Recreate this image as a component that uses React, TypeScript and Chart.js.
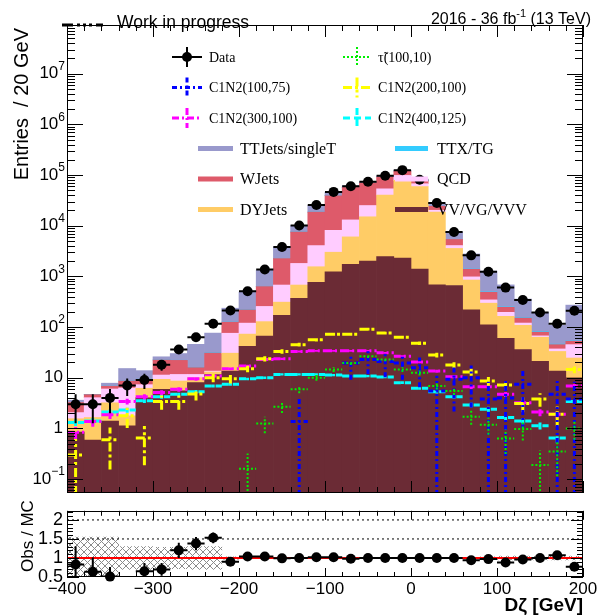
import React, { useEffect, useRef } from 'react';
import { Chart, registerables } from 'chart.js';

Chart.register(...registerables);

// Dζ binning: 30 bins of 20 GeV between -400 and 200 GeV
const binCenters = [-390, -370, -350, -330, -310, -290, -270, -250, -230, -210, -190, -170, -150, -130, -110, -90, -70, -50, -30, -10, 10, 30, 50, 70, 90, 110, 130, 150, 170, 190];
const BIN_HALF = 10;
const X_MIN = -400;
const X_MAX = 200;
const X_MINOR_STEP = 20;
const X_MAJOR_STEP = 100;
const Y_MIN = 0.0531;
const Y_MAX = 9.14e7;
const R_MIN = 0.5;
const R_MAX = 2.24;

// Observed events per bin
const dataCounts = [3, 3, 4, 7, 9, 18, 36, 63, 116, 212, 510, 1370, 3800, 10100, 25700, 46500, 60000, 74000, 97000, 125000, 81000, 28000, 7500, 2600, 1230, 600, 343, 194, 116, 209];

// Obs / MC per bin and relative MC stat. uncertainty
const obsOverMC = [0.83, 0.64, 0.51, 0.46, 0.65, 0.70, 1.20, 1.38, 1.53, 0.90, 1.04, 1.04, 0.99, 1.00, 1.02, 1.02, 0.98, 1.00, 1.00, 1.00, 1.00, 1.00, 1.00, 0.94, 0.97, 0.88, 0.96, 1.00, 1.07, 0.77];
const mcRelUnc = [0.55, 0.55, 0.55, 0.30, 0.30, 0.28, 0.28, 0.30, 0.30, 0.03, 0.02, 0.02, 0.01, 0.01, 0.01, 0.01, 0.01, 0.01, 0.01, 0.01, 0.01, 0.01, 0.01, 0.02, 0.03, 0.05, 0.05, 0.05, 0.05, 0.05];

// Background yields (stack order, bottom to top)
const vvYields = [0.85, 0.59, 1.4, 1.13, 4.0, 5.9, 5.5, 8, 11.6, 13.5, 41.6, 66, 170, 370, 760, 1230, 1720, 2000, 2450, 2300, 1400, 680, 660, 218, 111, 60, 36, 21, 13.5, 10];
const dyYields = [0.7, 1.05, 1.8, 0.64, 2.2, 3.4, 3.1, 2, 1.4, 17, 31, 62, 140, 305, 790, 1770, 4300, 13000, 38000, 76000, 58000, 18000, 2900, 630, 185, 103, 72, 42, 19.5, 14.5];
const qcdYields = [0.5, 2.4, 2.8, 4.5, 1.1, 2.0, 3.0, 1.6, 0.5, 45, 47, 127, 365, 1125, 2500, 5100, 7000, 10000, 13000, 20000, 8000, 1500, 500, 130, 48, 32, 12, 4, 4, 20.5];
const wjetsYields = [1.2, 0.6, 0.8, 2.3, 2.0, 11.0, 10.4, 4.2, 17.1, 49, 98, 375, 1575, 5700, 14500, 31000, 44000, 45000, 39000, 22000, 9000, 4000, 1300, 400, 140, 50, 30, 12, 8, 7.5];
const ttxYields = [0.02, 0.02, 0.05, 0.05, 0.05, 0.1, 0.1, 0.2, 0.4, 1, 2, 5, 15, 30, 50, 60, 60, 60, 60, 60, 50, 40, 30, 20, 10, 5, 3, 2, 1, 1];
const ttYields = [0.33, 0.04, 0.95, 6.58, 4.45, 3.5, 7.9, 29.6, 45, 110, 270, 682, 1575, 2570, 6600, 6440, 4120, 3940, 4490, 4640, 4550, 3780, 2110, 1372, 776, 430, 204, 113, 62, 217.5];

// Signal yields (null: empty bin)
const stauYields = [null, null, null, null, null, null, null, null, null, null, 0.16, 1.25, 2.66, 5.9, 10, 14.5, 19.5, 26.6, 23, 14.5, 12.5, 6.9, 5.5, 1.7, 1.18, 0.63, 0.97, 0.19, 0.35, 1.0];
const c1n2_100_75 = [null, null, null, null, null, null, null, null, null, null, null, null, null, 1.37, null, null, 19.5, 23, 21, 19.5, 15.8, 5.5, 9.3, 10, 3.8, 4.0, 7.4, null, 4.7, 3.8];
const c1n2_200_100 = [0.3, null, 0.6, 1.78, 0.65, 3.4, 3.4, 4.8, 10, 9.5, 15, 23.6, 33, 45, 56, 72, 72, 91, 76, 63, 48, 28, 17.8, 13, 8.6, 7.2, 3.1, 3.8, 1.9, 14.5];
const c1n2_300_100 = [0.84, 1.37, 1.86, 3.4, 4.2, 5.1, 5.9, 9.5, 10.8, 15, 17, 23, 23.6, 33, 34, 34, 34, 34, 31, 26.6, 20.5, 13.5, 10.5, 6.6, 6.6, 4.7, 3.2, 2.1, 1.9, 6.9];
const c1n2_400_125 = [1.31, 1.4, 2.1, 2.3, 3.5, 4.2, 4.7, 5.3, 6.9, 7.4, 9.5, 10, 11.6, 11.6, 11.6, 11.3, 10.8, 10.8, 10.3, 8, 6.2, 5.3, 4.2, 2.9, 2.4, 1.64, 1.4, 1.13, 0.65, 3.4];

// Axis labelling
const logDecades = [-1, 0, 1, 2, 3, 4, 5, 6, 7];
const ratioTickValues = [0.5, 1, 1.5, 2];
const ratioGuideLines = [1.5, 2];
const xTickValues = [-400, -300, -200, -100, 0, 100, 200];

const SANS = '"Liberation Sans", Arial, Helvetica, sans-serif';
const SERIF = '"Liberation Serif", "Times New Roman", Times, serif';

const backgrounds = [
  { label: 'VV/VG/VVV', values: vvYields, color: '#6b2b35' },
  { label: 'DYJets', values: dyYields, color: '#ffcc66' },
  { label: 'QCD', values: qcdYields, color: '#ffccff' },
  { label: 'WJets', values: wjetsYields, color: '#de5a6a' },
  { label: 'TTX/TG', values: ttxYields, color: '#33ccff' },
  { label: 'TTJets/singleT', values: ttYields, color: '#9999cc' },
];

const signals = [
  { label: 'τ̃(100,10)', values: stauYields, color: '#00ee00', dash: [2, 2], width: 2, weight: 0.16 },
  { label: 'C1N2(100,75)', values: c1n2_100_75, color: '#0000ff', dash: [5, 3, 2, 3], width: 3, weight: 5.5 },
  { label: 'C1N2(200,100)', values: c1n2_200_100, color: '#ffff00', dash: [9, 3, 3, 3], width: 3, weight: 0.33 },
  { label: 'C1N2(300,100)', values: c1n2_300_100, color: '#ff00ff', dash: [7, 3, 2, 3], width: 3, weight: 0.06 },
  { label: 'C1N2(400,125)', values: c1n2_400_125, color: '#00ffff', dash: [7, 4], width: 3, weight: 0.03 },
];

type ErrStyle = {
  xs: number[];
  ys: number[];
  lo: number[];
  hi: number[];
  color: string;
  width: number;
  dash: number[];
};

function drawErrorBars(chart: any, es: ErrStyle) {
  const { ctx, chartArea: a } = chart;
  const xs = chart.scales.x;
  const ys = chart.scales.y;
  ctx.save();
  ctx.beginPath();
  ctx.rect(a.left, a.top, a.right - a.left, a.bottom - a.top);
  ctx.clip();
  ctx.strokeStyle = es.color;
  ctx.lineWidth = es.width;
  ctx.setLineDash(es.dash);
  ctx.lineCap = 'butt';
  ctx.beginPath();
  for (let i = 0; i < es.xs.length; i++) {
    const x = es.xs[i];
    const y = es.ys[i];
    if (y < ys.min || y > ys.max) continue;
    const px = xs.getPixelForValue(x);
    const py = ys.getPixelForValue(y);
    ctx.moveTo(xs.getPixelForValue(x - BIN_HALF), py);
    ctx.lineTo(xs.getPixelForValue(x + BIN_HALF), py);
    const pLo = es.lo[i] > ys.min ? ys.getPixelForValue(es.lo[i]) : a.bottom + 2;
    const pHi = ys.getPixelForValue(Math.min(es.hi[i], ys.max * 2));
    ctx.moveTo(px, pLo);
    ctx.lineTo(px, pHi);
  }
  ctx.stroke();
  ctx.restore();
}

type TickSpec = { value: number; major: boolean };

function drawFrameTicks(chart: any, yTicks: TickSpec[], len: { xMaj: number; xMin: number; yMaj: number; yMin: number }) {
  const { ctx, chartArea: a } = chart;
  const xs = chart.scales.x;
  const ys = chart.scales.y;
  ctx.save();
  ctx.strokeStyle = '#000';
  ctx.lineWidth = 1;
  ctx.setLineDash([]);
  ctx.beginPath();
  for (let v = X_MIN; v <= X_MAX; v += X_MINOR_STEP) {
    const px = Math.round(xs.getPixelForValue(v)) + 0.5;
    const l = v % X_MAJOR_STEP === 0 ? len.xMaj : len.xMin;
    ctx.moveTo(px, a.bottom);
    ctx.lineTo(px, a.bottom - l);
    ctx.moveTo(px, a.top);
    ctx.lineTo(px, a.top + l);
  }
  for (const t of yTicks) {
    if (t.value < ys.min || t.value > ys.max) continue;
    const py = Math.round(ys.getPixelForValue(t.value)) + 0.5;
    const l = t.major ? len.yMaj : len.yMin;
    ctx.moveTo(a.left, py);
    ctx.lineTo(a.left + l, py);
    ctx.moveTo(a.right, py);
    ctx.lineTo(a.right - l, py);
  }
  ctx.stroke();
  ctx.strokeRect(Math.round(a.left) + 0.5, Math.round(a.top) + 0.5, Math.round(a.right - a.left) - 1, Math.round(a.bottom - a.top) - 1);
  ctx.restore();
}

// text with a raised exponent, right-aligned at xRight
function drawWithSup(ctx: CanvasRenderingContext2D, base: string, sup: string, xRight: number, y: number, size: number, supSize: number, rise: number) {
  ctx.font = `${supSize}px ${SANS}`;
  const supW = sup ? ctx.measureText(sup).width : 0;
  ctx.textAlign = 'right';
  ctx.fillText(sup, xRight, y - rise);
  ctx.font = `${size}px ${SANS}`;
  ctx.fillText(base, xRight - supW, y);
}

// Two legend blocks: data + signals (upper), backgrounds (lower)
type LegendItem = { kind: 'data' | 'signal' | 'bg'; label: string; color: string; dash?: number[]; width?: number };
type LegendBlock = { rows: number[]; cols: { symL: number; symR: number; text: number }[]; fontSize: number; items: LegendItem[][] };

const legendBlocks: LegendBlock[] = [
  {
    rows: [57, 87.5, 118],
    cols: [
      { symL: 172, symR: 202, text: 209 },
      { symL: 343, symR: 371, text: 378 },
    ],
    fontSize: 14,
    items: [
      [
        { kind: 'data', label: 'Data', color: '#000' },
        { kind: 'signal', ...signals[1] },
        { kind: 'signal', ...signals[3] },
      ],
      [
        { kind: 'signal', ...signals[0] },
        { kind: 'signal', ...signals[2] },
        { kind: 'signal', ...signals[4] },
      ],
    ],
  },
  {
    rows: [148.5, 179, 209.5],
    cols: [
      { symL: 198, symR: 233, text: 240 },
      { symL: 395, symR: 428, text: 437 },
    ],
    fontSize: 16,
    items: [
      [
        { kind: 'bg', label: backgrounds[5].label, color: backgrounds[5].color },
        { kind: 'bg', label: backgrounds[3].label, color: backgrounds[3].color },
        { kind: 'bg', label: backgrounds[1].label, color: backgrounds[1].color },
      ],
      [
        { kind: 'bg', label: backgrounds[4].label, color: backgrounds[4].color },
        { kind: 'bg', label: backgrounds[2].label, color: backgrounds[2].color },
        { kind: 'bg', label: backgrounds[0].label, color: backgrounds[0].color },
      ],
    ],
  },
];

function drawLegend(ctx: CanvasRenderingContext2D) {
  ctx.save();
  for (const block of legendBlocks) {
    block.items.forEach((col, ci) => {
      const c = block.cols[ci];
      col.forEach((item, ri) => {
        const y = block.rows[ri];
        const mid = (c.symL + c.symR) / 2;
        if (item.kind === 'data') {
          ctx.strokeStyle = '#000';
          ctx.lineWidth = 2;
          ctx.setLineDash([]);
          ctx.beginPath();
          ctx.moveTo(c.symL, y);
          ctx.lineTo(c.symR, y);
          ctx.moveTo(mid, y - 10);
          ctx.lineTo(mid, y + 10);
          ctx.stroke();
          ctx.fillStyle = '#000';
          ctx.beginPath();
          ctx.arc(mid, y, 5, 0, Math.PI * 2);
          ctx.fill();
        } else if (item.kind === 'signal') {
          ctx.strokeStyle = item.color;
          ctx.lineWidth = item.width || 2;
          ctx.setLineDash(item.dash || []);
          ctx.beginPath();
          ctx.moveTo(c.symL, y);
          ctx.lineTo(c.symR, y);
          ctx.moveTo(mid, y - 10);
          ctx.lineTo(mid, y + 10);
          ctx.stroke();
        } else {
          ctx.setLineDash([]);
          ctx.strokeStyle = item.color;
          ctx.lineWidth = 5;
          ctx.beginPath();
          ctx.moveTo(c.symL, y);
          ctx.lineTo(c.symR, y);
          ctx.stroke();
        }
        ctx.fillStyle = '#000';
        ctx.font = `${block.fontSize}px ${SERIF}`;
        ctx.textAlign = 'left';
        ctx.textBaseline = 'middle';
        ctx.fillText(item.label, c.text, y + 1);
      });
    });
  }
  ctx.restore();
}

const logTicks: TickSpec[] = [];
for (let d = -2; d <= 8; d++) {
  for (let m = 1; m <= 9; m++) logTicks.push({ value: m * Math.pow(10, d), major: m === 1 });
}
const ratioTicks: TickSpec[] = [];
for (let k = 5; k <= 22; k++) ratioTicks.push({ value: k / 10, major: k % 5 === 0 });

const mainDecor = {
  id: 'mainDecor',
  beforeDatasetDraw(chart: any, args: any) {
    const ds = chart.data.datasets[args.index];
    if (ds.errStyle) drawErrorBars(chart, ds.errStyle);
  },
  afterDatasetDraw(chart: any, args: any) {
    const ds = chart.data.datasets[args.index];
    if (ds.legendEdge) {
      const ctx = chart.ctx;
      ctx.save();
      ctx.strokeStyle = '#fff';
      ctx.lineWidth = 1;
      ctx.beginPath();
      ctx.moveTo(190, 224.5);
      ctx.lineTo(570, 224.5);
      ctx.stroke();
      ctx.restore();
    }
  },
  afterDraw(chart: any) {
    const { ctx } = chart;
    const ys = chart.scales.y;
    drawFrameTicks(chart, logTicks, { xMaj: 12, xMin: 6, yMaj: 16, yMin: 8 });

    // decade labels
    ctx.save();
    ctx.fillStyle = '#000';
    ctx.textBaseline = 'middle';
    for (const d of logDecades) {
      const py = ys.getPixelForValue(Math.pow(10, d));
      if (d === 0) drawWithSup(ctx, '1', '', 63, py, 17, 12, 7);
      else if (d === 1) drawWithSup(ctx, '10', '', 63, py, 17, 12, 7);
      else drawWithSup(ctx, '10', d < 0 ? '−' + String(-d) : String(d), 65, py, 17, 12, 7);
    }
    ctx.restore();

    drawLegend(ctx);

    ctx.save();
    ctx.fillStyle = '#000';
    ctx.textBaseline = 'alphabetic';
    ctx.font = `17.5px ${SANS}`;
    ctx.textAlign = 'left';
    ctx.fillText('Work in progress', 117, 28);

    // 2016 - 36 fb^-1 (13 TeV)
    ctx.font = `16px ${SANS}`;
    const tail = ' (13 TeV)';
    const head = '2016 - 36 fb';
    const tailW = ctx.measureText(tail).width;
    ctx.font = `11px ${SANS}`;
    const supW = ctx.measureText('-1').width;
    const right = 591;
    ctx.textAlign = 'right';
    ctx.font = `16px ${SANS}`;
    ctx.fillText(tail, right, 24);
    ctx.font = `11px ${SANS}`;
    ctx.fillText('-1', right - tailW, 17);
    ctx.font = `16px ${SANS}`;
    ctx.fillText(head, right - tailW - supW, 24);

    // y title
    ctx.save();
    ctx.translate(28, 28);
    ctx.rotate(-Math.PI / 2);
    ctx.font = `20px ${SANS}`;
    ctx.textAlign = 'right';
    ctx.fillText('Entries  / 20 GeV', 0, 0);
    ctx.restore();

    // dashed mark on the upper frame edge
    ctx.strokeStyle = '#000';
    ctx.lineWidth = 3;
    ctx.setLineDash([11, 4, 3, 3, 3, 3, 3, 4, 11]);
    ctx.beginPath();
    ctx.moveTo(62, 25);
    ctx.lineTo(103, 25);
    ctx.stroke();
    ctx.restore();
  },
};

const ratioDecor = {
  id: 'ratioDecor',
  beforeDatasetDraw(chart: any, args: any) {
    const ds = chart.data.datasets[args.index];
    if (ds.errStyle) drawErrorBars(chart, ds.errStyle);
  },
  afterDraw(chart: any) {
    const { ctx } = chart;
    drawFrameTicks(chart, ratioTicks, { xMaj: 9, xMin: 5, yMaj: 12, yMin: 6 });
    ctx.save();
    ctx.fillStyle = '#000';
    ctx.textBaseline = 'alphabetic';
    ctx.translate(33, 40);
    ctx.rotate(-Math.PI / 2);
    ctx.font = `17px ${SANS}`;
    ctx.textAlign = 'center';
    ctx.fillText('Obs / MC', 0, 0);
    ctx.restore();
    ctx.save();
    ctx.fillStyle = '#000';
    ctx.font = `bold 19px ${SANS}`;
    ctx.textAlign = 'right';
    ctx.textBaseline = 'alphabetic';
    ctx.fillText('Dζ [GeV]', 583, 115);
    ctx.restore();
  },
};

function makeHatch(): CanvasPattern | string {
  const c = document.createElement('canvas');
  c.width = 7;
  c.height = 7;
  const g = c.getContext('2d');
  if (!g) return 'rgba(0,0,0,0.2)';
  g.strokeStyle = '#8a8a8a';
  g.lineWidth = 1;
  g.beginPath();
  g.moveTo(0, 0);
  g.lineTo(7, 7);
  g.moveTo(7, 0);
  g.lineTo(0, 7);
  g.stroke();
  return g.createPattern(c, 'repeat') || 'rgba(0,0,0,0.2)';
}

function buildMainConfig(): any {
  const running = binCenters.map(() => 0);
  const barSets = backgrounds.map((bg, bi) => {
    const pts = binCenters.map((x, i) => {
      const lo = running[i];
      const hi = lo + bg.values[i];
      running[i] = hi;
      return { x, y: [lo > 0 ? lo : Y_MIN, hi] };
    });
    return {
      type: 'bar',
      label: bg.label,
      data: pts,
      backgroundColor: bg.color,
      borderWidth: 0,
      barPercentage: 1,
      categoryPercentage: 1,
      grouped: false,
      order: 10,
      clip: 0,
      legendEdge: bi === backgrounds.length - 1,
    };
  });

  const signalSets = signals.map((s) => {
    const xs: number[] = [];
    const ys: number[] = [];
    const lo: number[] = [];
    const hi: number[] = [];
    s.values.forEach((v, i) => {
      if (v === null) return;
      const err = Math.sqrt(v * s.weight);
      xs.push(binCenters[i]);
      ys.push(v);
      lo.push(v - err);
      hi.push(v + err);
    });
    return {
      type: 'scatter',
      label: s.label,
      data: xs.map((x, i) => ({ x, y: ys[i] })),
      pointRadius: 0,
      showLine: false,
      order: 5,
      errStyle: { xs, ys, lo, hi, color: s.color, width: s.width, dash: s.dash },
    };
  });

  const dataSet = {
    type: 'scatter',
    label: 'Data',
    data: binCenters.map((x, i) => ({ x, y: dataCounts[i] })),
    pointRadius: 5,
    pointBackgroundColor: '#000',
    pointBorderWidth: 0,
    order: 1,
    clip: false,
    errStyle: {
      xs: binCenters,
      ys: dataCounts,
      lo: dataCounts.map((n) => n - Math.sqrt(n)),
      hi: dataCounts.map((n) => n + Math.sqrt(n)),
      color: '#000',
      width: 2,
      dash: [],
    },
  };

  return {
    type: 'bar',
    data: { datasets: [...barSets, ...signalSets, dataSet] },
    options: {
      animation: false,
      responsive: false,
      devicePixelRatio: 1,
      events: [],
      layout: { padding: { left: 0, right: 20, top: 25, bottom: 1 } },
      plugins: { legend: { display: false }, tooltip: { enabled: false } },
      scales: {
        x: {
          type: 'linear',
          min: X_MIN,
          max: X_MAX,
          offset: false,
          grid: { display: false, drawTicks: false },
          border: { display: false },
          ticks: { display: false },
          afterFit: (s: any) => { s.height = 1; },
        },
        y: {
          type: 'logarithmic',
          min: Y_MIN,
          max: Y_MAX,
          grid: { display: false, drawTicks: false },
          border: { display: false },
          ticks: { display: false },
          afterFit: (s: any) => { s.width = 67; },
        },
      },
    },
    plugins: [mainDecor],
  };
}

function buildRatioConfig(): any {
  const band = {
    type: 'bar',
    label: 'MC unc.',
    data: binCenters.map((x, i) => ({ x, y: [1 - mcRelUnc[i], 1 + mcRelUnc[i]] })),
    backgroundColor: makeHatch(),
    borderWidth: 0,
    barPercentage: 1,
    categoryPercentage: 1,
    grouped: false,
    order: 10,
    clip: 0,
  };
  const guides = ratioGuideLines.map((v) => ({
    type: 'line',
    label: `ref ${v}`,
    data: [{ x: X_MIN, y: v }, { x: X_MAX, y: v }],
    borderColor: '#000',
    borderWidth: 1,
    borderDash: [2, 3],
    pointRadius: 0,
    order: 8,
  }));
  const unity = {
    type: 'line',
    label: 'unity',
    data: [{ x: X_MIN, y: 1 }, { x: X_MAX, y: 1 }],
    borderColor: '#ff0000',
    borderWidth: 2,
    pointRadius: 0,
    order: 6,
  };
  const xs: number[] = [];
  const ys: number[] = [];
  const lo: number[] = [];
  const hi: number[] = [];
  obsOverMC.forEach((r, i) => {
    if (r < R_MIN || r > R_MAX) return;
    const e = r / Math.sqrt(dataCounts[i]);
    xs.push(binCenters[i]);
    ys.push(r);
    lo.push(r - e);
    hi.push(r + e);
  });
  const points = {
    type: 'scatter',
    label: 'Obs / MC',
    data: xs.map((x, i) => ({ x, y: ys[i] })),
    pointRadius: 5,
    pointBackgroundColor: '#000',
    pointBorderWidth: 0,
    order: 1,
    clip: false,
    errStyle: { xs, ys, lo, hi, color: '#000', width: 2, dash: [] },
  };
  return {
    type: 'bar',
    data: { datasets: [band, ...guides, unity, points] },
    options: {
      animation: false,
      responsive: false,
      devicePixelRatio: 1,
      events: [],
      layout: { padding: { left: 0, right: 20, top: 1, bottom: 0 } },
      plugins: { legend: { display: false }, tooltip: { enabled: false } },
      scales: {
        x: {
          type: 'linear',
          min: X_MIN,
          max: X_MAX,
          offset: false,
          grid: { display: false, drawTicks: false },
          border: { display: false },
          afterBuildTicks: (s: any) => { s.ticks = xTickValues.map((v) => ({ value: v })); },
          ticks: {
            padding: 2,
            color: '#000',
            maxRotation: 0,
            autoSkip: false,
            font: { family: SANS, size: 17 },
            callback: (v: any) => (v < 0 ? '−' + String(-v) : String(v)),
          },
          afterFit: (s: any) => { s.height = 38; },
        },
        y: {
          type: 'linear',
          min: R_MIN,
          max: R_MAX,
          grid: { display: false, drawTicks: false },
          border: { display: false },
          afterBuildTicks: (s: any) => { s.ticks = ratioTickValues.map((v) => ({ value: v })); },
          ticks: {
            padding: 4,
            color: '#000',
            autoSkip: false,
            font: { family: SANS, size: 18 },
            callback: (v: any) => String(v),
          },
          afterFit: (s: any) => { s.width = 67; },
        },
      },
    },
    plugins: [ratioDecor],
  };
}

export default function App() {
  const mainRef = useRef<HTMLCanvasElement>(null);
  const ratioRef = useRef<HTMLCanvasElement>(null);

  useEffect(() => {
    if (!mainRef.current || !ratioRef.current) return;
    const main = new Chart(mainRef.current, buildMainConfig());
    const ratio = new Chart(ratioRef.current, buildRatioConfig());
    return () => {
      main.destroy();
      ratio.destroy();
    };
  }, []);

  return (
    <div style={{ position: 'absolute', left: 0, top: 0, width: 603, height: 615, background: '#fff', overflow: 'hidden' }}>
      <canvas ref={mainRef} width={603} height={498} style={{ position: 'absolute', left: 0, top: 0, width: 603, height: 498 }} />
      <canvas ref={ratioRef} width={603} height={119} style={{ position: 'absolute', left: 0, top: 496, width: 603, height: 119 }} />
    </div>
  );
}
